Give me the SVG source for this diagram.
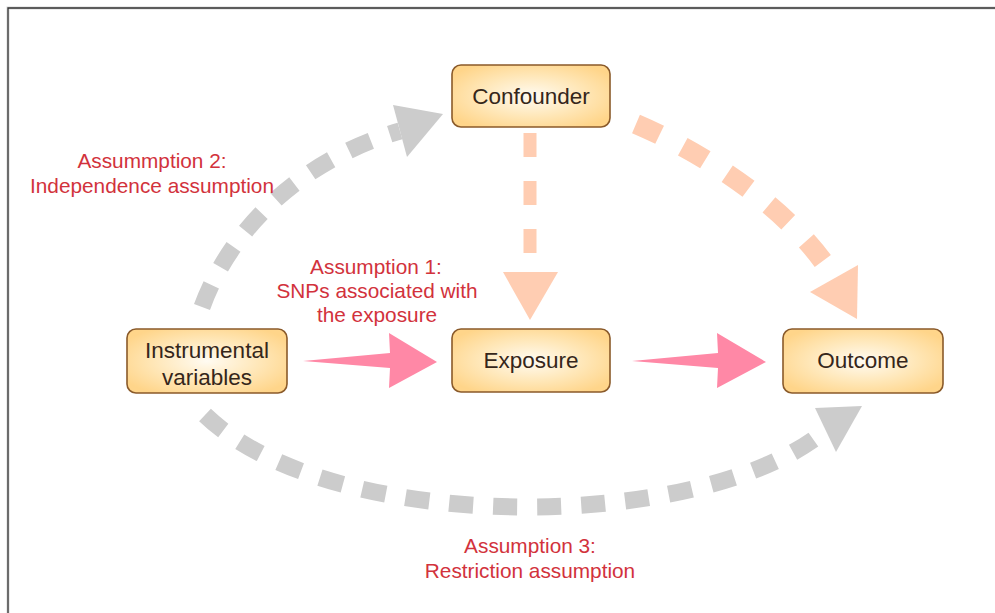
<svg xmlns="http://www.w3.org/2000/svg" width="995" height="613" viewBox="0 0 995 613">
<defs>
<radialGradient id="nodeFill" cx="50%" cy="50%" r="60%">
<stop offset="0" stop-color="#FFFBF2"/>
<stop offset="0.55" stop-color="#FFE7B8"/>
<stop offset="1" stop-color="#FFD58A"/>
</radialGradient>
<style>
.node rect{fill:url(#nodeFill);stroke:#8A5A2A;stroke-width:1.6}
.node text{font-family:"Liberation Sans",Arial,sans-serif;font-size:22.5px;fill:#35261A;text-anchor:middle}
.lbl{font-family:"Liberation Sans",Arial,sans-serif;font-size:20.8px;fill:#D2323C;text-anchor:middle}
.grey{fill:none;stroke:#CCCCCC;stroke-width:17;stroke-dasharray:24 20}
.peach{fill:none;stroke:#FFCDB2;stroke-width:20;stroke-dasharray:26 26}
.peachv{fill:none;stroke:#FFCDB2;stroke-width:13}
</style>
</defs>
<rect width="995" height="613" fill="#FFFFFF"/>
<path d="M8 613 V8 H995" fill="none" stroke="#D8D8D8" stroke-width="3"/>
<path d="M8 613 V8 H995" fill="none" stroke="#333333" stroke-width="1.3"/>

<g id="connectors">
<path class="grey" d="M202 307 C230 230 300 160 400 131"/>
<polygon points="393,105 443,114 407,157" fill="#CCCCCC"/>
<path class="grey" d="M205 415 C330 535 700 535 826 430"/>
<polygon points="815,408 862,406 836,452" fill="#CCCCCC"/>
<path class="peach" d="M636 124 C720 160 800 220 834 278"/>
<polygon points="810,292 858,265 857,319" fill="#FFCDB2"/>
<path class="peachv" d="M530 133 V272" stroke-dasharray="24 24"/>
<polygon points="503,272 558,272 530,320" fill="#FFCDB2"/>
<polygon points="303,361 390,353 389,333 437,362 389,388 390,368" fill="#FF88A6"/>
<polygon points="632,361 718,353 717,333 766,362 717,388 718,368" fill="#FF88A6"/>
</g>

<g id="confounder" class="node">
<rect x="452" y="65" width="158" height="62" rx="9"/>
<text x="531" y="104">Confounder</text>
</g>
<g id="instrumental" class="node">
<rect x="127" y="329" width="160" height="64" rx="9"/>
<text x="207" y="358">Instrumental</text>
<text x="207" y="385">variables</text>
</g>
<g id="exposure" class="node">
<rect x="452" y="329" width="158" height="63" rx="9"/>
<text x="531" y="368">Exposure</text>
</g>
<g id="outcome" class="node">
<rect x="783" y="329" width="160" height="64" rx="9"/>
<text x="863" y="368">Outcome</text>
</g>

<g id="labels">
<text class="lbl" x="152" y="168">Assummption 2:</text>
<text class="lbl" x="152" y="193">Independence assumption</text>
<text class="lbl" x="376" y="274">Assumption 1:</text>
<text class="lbl" x="377" y="298">SNPs associated with</text>
<text class="lbl" x="377" y="322">the exposure</text>
<text class="lbl" x="530" y="553">Assumption 3:</text>
<text class="lbl" x="530" y="578">Restriction assumption</text>
</g>
</svg>
